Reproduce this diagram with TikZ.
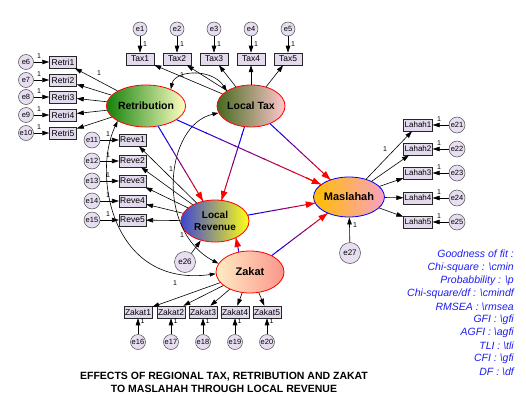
\documentclass[tikz,border=0pt]{standalone}
\usepackage{fontspec}
\setmainfont{Liberation Sans}
\usetikzlibrary{shapes.geometric,arrows.meta,calc}
\definecolor{boxfill}{RGB}{228,218,238}
\definecolor{errfill}{RGB}{232,222,242}
\definecolor{gofblue}{RGB}{30,30,240}
\definecolor{retL}{RGB}{20,130,10}
\definecolor{retR}{RGB}{255,255,195}
\definecolor{ltL}{RGB}{70,105,30}
\definecolor{ltR}{RGB}{255,200,205}
\definecolor{lrL}{RGB}{60,70,210}
\definecolor{lrR}{RGB}{255,255,20}
\definecolor{zkL}{RGB}{255,236,195}
\definecolor{zkR}{RGB}{250,150,140}
\definecolor{msL}{RGB}{255,190,0}
\definecolor{msR}{RGB}{250,160,195}
\newcommand{\gradarrow}[2]{%
  \path (#1) -- (#2) coordinate[pos=0] (gA) coordinate[pos=1] (gB);
  \foreach \k in {0,...,9}{%
    \pgfmathsetmacro{\pa}{\k/10}%
    \pgfmathsetmacro{\pb}{(\k+1)/10+0.01}%
    \pgfmathtruncatemacro{\mix}{\k*11}%
    \draw[line width=1pt, red!\mix!blue] ($(gA)!\pa!(gB)$) -- ($(gA)!\pb!(gB)$);
  }%
  \draw[-{Triangle[length=9pt,width=6.5pt]}, red, line width=1pt] ($(gA)!0.9!(gB)$) -- (gB);
}
\begin{document}
\begin{tikzpicture}[x=1pt,y=-1pt,
 lat/.style={ellipse, line width=0.8pt, minimum width=68pt, minimum height=42pt, inner sep=0pt,
   font=\fontsize{10.5}{12}\selectfont\bfseries, align=center},
 obs/.style={rectangle, draw=black!85, fill=boxfill, line width=0.5pt, minimum height=12pt,
   inner xsep=1pt, inner ysep=0pt, font=\fontsize{8.5}{9}\selectfont},
 err/.style={circle, draw=black!70, fill=errfill, line width=0.5pt, minimum size=15pt,
   inner sep=0pt, font=\fontsize{7.5}{8}\selectfont},
 ind/.style={-{Triangle[length=7pt,width=4.5pt]}, line width=0.6pt},
 cov/.style={{Triangle[length=6pt,width=4pt]}-{Triangle[length=6pt,width=4pt]}, line width=0.6pt},
 one/.style={font=\fontsize{7}{7}\selectfont, inner sep=0.5pt},
 gof/.style={anchor=east, text=gofblue, inner sep=0pt, font=\fontsize{10.5}{12}\selectfont\itshape},
 ttl/.style={inner sep=0pt, font=\fontsize{10.5}{12}\selectfont\bfseries}
]
\useasboundingbox[fill=white] (0,0) rectangle (526,401);

% latent variables
\node[lat, draw=red, left color=retL, right color=retR] (ret) at (146,106) {Retribution};
\node[lat, draw=red, left color=ltL, right color=ltR] (lt) at (251,106) {Local Tax};
\node[lat, draw=red, left color=lrL, right color=lrR, font=\fontsize{10}{12}\selectfont\bfseries] (lr) at (215,221) {Local\\Revenue};
\node[lat, draw=red, left color=zkL, right color=zkR, font=\fontsize{11}{12}\selectfont\bfseries] (zak) at (250,272) {Zakat};
\node[lat, draw=blue, left color=msL, right color=msR, minimum width=66pt, minimum height=40pt, font=\fontsize{11}{12}\selectfont\bfseries] (mas) at (349,197) {Maslahah};

% Tax indicators
\foreach \i/\x in {1/140,2/177,3/214,4/251,5/288}{
  \node[obs, minimum width=28pt] (tax\i) at (\x,59) {Tax\i};
  \node[err, minimum size=14pt] (e\i) at (\x,29) {e\i};
  \draw[ind] (e\i) -- (tax\i);
  \draw[ind] (lt) -- (tax\i);
}
\foreach \i in {1,...,5}{\node[one] at ($(tax\i.north)+(5,-9)$) {1};}
\node[one] at (182,75) {1};

% Retribution indicators
\foreach \i/\y [evaluate=\i as \j using int(\i+5)] in {1/62,2/80,3/97,4/115,5/133}{
  \node[obs, minimum width=27pt] (retri\i) at (63,\y) {Retri\i};
  \node[err] (e\j) at (26,\y) {e\j};
  \draw[ind] (e\j) -- (retri\i);
  \draw[ind] (ret) -- (retri\i);
  \node[one] at (39,\y-5.5) {1};
}
\node[one] at (99,73) {1};

% Local revenue indicators
\foreach \i/\y [evaluate=\i as \j using int(\i+10)] in {1/140,2/161,3/181,4/201,5/220}{
  \node[obs, minimum width=25pt] (reve\i) at (132.5,\y) {Reve\i};
  \node[err, minimum size=16pt] (e\j) at (92,\y) {e\j};
  \draw[ind] (e\j) -- (reve\i);
  \draw[ind] (lr) -- (reve\i);
  \node[one] at (108,\y-6) {1};
}
\node[one] at (171,169) {1};

% Zakat indicators
\foreach \i/\x [evaluate=\i as \j using int(\i+15)] in {1/138,2/171,3/203,4/235,5/267}{
  \node[obs, minimum width=28pt] (zakat\i) at (\x,312) {Zakat\i};
  \node[err, minimum size=15pt, minimum width=14pt] (e\j) at (\x,342) {e\j};
  \draw[ind] (e\j) -- (zakat\i);
  \draw[ind] (zak) -- (zakat\i);
  \node[one] at (\x+4.5,321) {1};
}
\node[one] at (175,283) {1};

% Maslahah indicators
\foreach \i/\y [evaluate=\i as \j using int(\i+20)] in {1/125,2/149,3/173,4/198,5/222}{
  \node[obs, minimum width=27pt, font=\fontsize{8}{9}\selectfont] (lahah\i) at (418,\y) {Lahah\i};
  \node[err, minimum size=16pt] (e\j) at (457,\y) {e\j};
  \draw[ind] (e\j) -- (lahah\i);
  \draw[ind] (mas) -- (lahah\i);
  \node[one] at (439,\y-6) {1};
}
\node[one] at (385,149) {1};

% disturbances
\node[err, minimum size=21pt, font=\fontsize{8}{8}\selectfont] (e26) at (185,262) {e26};
\node[err, minimum size=21pt, font=\fontsize{8}{8}\selectfont] (e27) at (350,253) {e27};
\draw[ind] (e26) -- (lr);
\draw[ind] (e27) -- (mas);
\node[one] at (182,235) {1};
\node[one] at (355,225) {1};

% covariances
\draw[cov] (ret.34) .. controls (175,70) and (212,68) .. (lt.148);
\draw[cov] (ret.208) .. controls (92,175) and (112,288) .. (zak.183);
\draw[cov] (lt.192) .. controls (165,125) and (155,230) .. (zak.165);

% structural paths
\gradarrow{ret}{lr}
\gradarrow{lt}{lr}
\gradarrow{ret}{mas}
\gradarrow{lt}{mas}
\gradarrow{lr}{mas}
\gradarrow{zak}{mas}
\gradarrow{zak.119}{lr.-39}

% goodness of fit
\node[gof] (g1) at (514,254) {Goodness of fit :};
\node[gof] (g2) at (514,268) {Chi-square : \textbackslash cmin};
\node[gof] (g3) at (514,281) {Probabbility : \textbackslash p};
\node[gof] (g4) at (514,294) {Chi-square/df : \textbackslash cmindf};
\node[gof] (g5) at (514,307) {RMSEA : \textbackslash rmsea};
\node[gof] (g6) at (514,320) {GFI : \textbackslash gfi};
\node[gof] (g7) at (514,333) {AGFI : \textbackslash agfi};
\node[gof] (g8) at (514,346) {TLI : \textbackslash tli};
\node[gof] (g9) at (514,359) {CFI : \textbackslash gfi};
\node[gof] (g10) at (514,372) {DF : \textbackslash df};

% title
\node[ttl] (t1) at (224,376.5) {EFFECTS OF REGIONAL TAX, RETRIBUTION AND ZAKAT};
\node[ttl] (t2) at (224,388.5) {TO MASLAHAH THROUGH LOCAL REVENUE};
\end{tikzpicture}
\end{document}
